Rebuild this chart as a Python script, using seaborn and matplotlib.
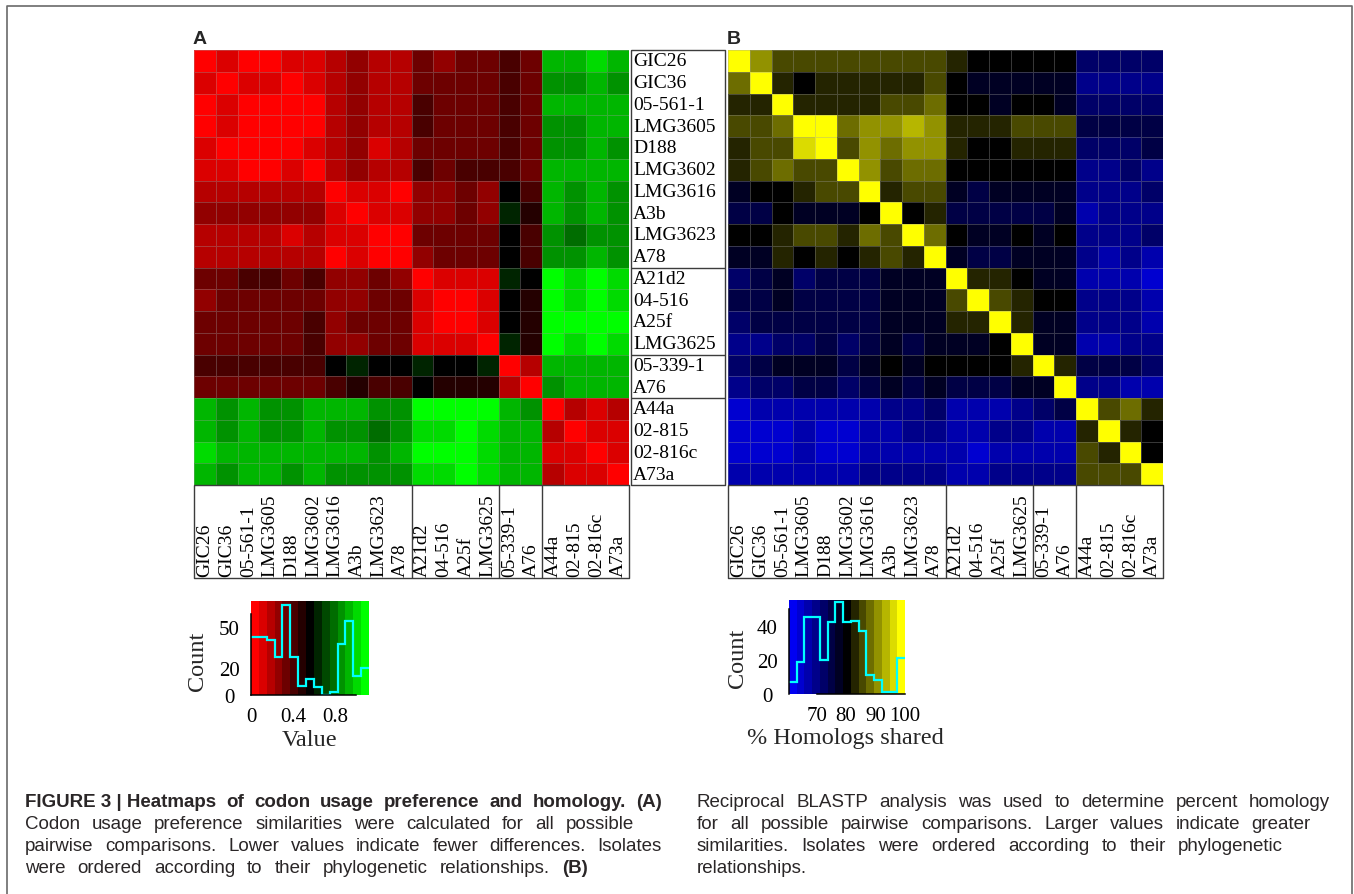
import numpy as np
import pandas as pd
import matplotlib
matplotlib.use("Agg")
import matplotlib.pyplot as plt
import seaborn as sns
from matplotlib.colors import ListedColormap

# ---------------- data ----------------
isolates = ["GIC26", "GIC36", "05-561-1", "LMG3605", "D188", "LMG3602", "LMG3616",
            "A3b", "LMG3623", "A78", "A21d2", "04-516", "A25f", "LMG3625",
            "05-339-1", "A76", "A44a", "02-815", "02-816c", "A73a"]
group_sizes = [10, 4, 2, 4]

codon_rows = [
    [0.00,0.11,0.04,0.04,0.11,0.11,0.19,0.26,0.19,0.19,0.34,0.26,0.34,0.34,0.41,0.34,0.93,0.93,1.01,0.93],
    [0.11,0.00,0.11,0.11,0.04,0.11,0.19,0.26,0.19,0.19,0.34,0.34,0.34,0.34,0.41,0.34,0.86,0.86,0.93,0.86],
    [0.04,0.11,0.00,0.04,0.04,0.04,0.19,0.26,0.19,0.19,0.41,0.34,0.34,0.34,0.41,0.34,0.93,0.93,0.93,0.93],
    [0.04,0.11,0.04,0.00,0.04,0.04,0.19,0.26,0.19,0.19,0.41,0.34,0.34,0.34,0.41,0.34,0.86,0.86,0.93,0.93],
    [0.11,0.04,0.04,0.04,0.00,0.11,0.19,0.26,0.11,0.19,0.34,0.34,0.34,0.34,0.41,0.34,0.86,0.86,0.93,0.86],
    [0.11,0.11,0.04,0.04,0.11,0.00,0.19,0.26,0.19,0.19,0.41,0.34,0.41,0.41,0.41,0.34,0.93,0.93,0.93,0.93],
    [0.19,0.19,0.19,0.19,0.19,0.19,0.00,0.11,0.11,0.04,0.26,0.26,0.34,0.26,0.56,0.41,0.93,0.86,0.93,0.86],
    [0.26,0.26,0.26,0.26,0.26,0.26,0.11,0.00,0.11,0.11,0.26,0.26,0.34,0.26,0.63,0.49,0.93,0.86,0.93,0.86],
    [0.19,0.19,0.19,0.19,0.11,0.19,0.11,0.11,0.00,0.04,0.34,0.34,0.34,0.34,0.56,0.41,0.86,0.78,0.86,0.86],
    [0.19,0.19,0.19,0.19,0.19,0.19,0.04,0.11,0.04,0.00,0.26,0.34,0.34,0.34,0.56,0.41,0.86,0.86,0.93,0.86],
    [0.34,0.34,0.41,0.41,0.34,0.41,0.26,0.26,0.34,0.26,0.00,0.11,0.11,0.11,0.63,0.56,1.08,1.01,1.08,1.01],
    [0.26,0.34,0.34,0.34,0.34,0.34,0.26,0.26,0.34,0.34,0.11,0.00,0.04,0.11,0.56,0.49,1.08,1.01,1.08,1.01],
    [0.34,0.34,0.34,0.34,0.34,0.41,0.26,0.34,0.34,0.34,0.11,0.04,0.00,0.11,0.56,0.49,1.08,1.08,1.08,1.08],
    [0.34,0.34,0.34,0.34,0.34,0.41,0.26,0.26,0.34,0.34,0.11,0.11,0.11,0.00,0.63,0.49,1.08,1.01,1.08,1.01],
    [0.41,0.41,0.41,0.41,0.41,0.41,0.56,0.63,0.56,0.56,0.63,0.56,0.56,0.63,0.00,0.19,0.93,0.93,0.93,0.93],
    [0.34,0.34,0.34,0.34,0.34,0.34,0.41,0.49,0.41,0.41,0.56,0.49,0.49,0.49,0.19,0.00,0.86,0.93,0.93,0.93],
    [0.93,0.86,0.93,0.86,0.86,0.93,0.93,0.93,0.86,0.86,1.08,1.08,1.08,1.08,0.93,0.86,0.00,0.19,0.11,0.19],
    [0.93,0.86,0.93,0.86,0.86,0.93,0.86,0.86,0.78,0.86,1.01,1.01,1.08,1.01,0.93,0.93,0.19,0.00,0.11,0.11],
    [1.01,0.93,0.93,0.93,0.93,0.93,0.93,0.93,0.86,0.93,1.08,1.08,1.08,1.01,0.93,0.93,0.11,0.11,0.00,0.11],
    [0.93,0.86,0.93,0.93,0.86,0.93,0.86,0.86,0.86,0.86,1.01,1.01,1.08,1.01,0.93,0.93,0.19,0.11,0.11,0.00],
]

homology_rows = [
    [100,90.8,85.6,85.6,85.6,85.6,85.6,85.6,85.6,85.6,82.9,80.3,80.3,80.3,80.3,80.3,72.4,72.4,72.4,72.4],
    [88.2,100,82.9,80.3,82.9,82.9,82.9,82.9,82.9,85.6,80.3,77.7,77.7,77.7,77.7,77.7,69.8,69.8,69.8,69.8],
    [82.9,82.9,100,82.9,82.9,82.9,82.9,85.6,85.6,88.2,80.3,80.3,77.7,80.3,80.3,77.7,72.4,72.4,72.4,72.4],
    [85.6,85.6,88.2,100,98.7,88.2,90.8,90.8,93.4,90.8,82.9,82.9,82.9,85.6,85.6,85.6,75.0,75.0,75.0,75.0],
    [82.9,85.6,85.6,96.1,100,85.6,90.8,88.2,90.8,90.8,82.9,80.3,80.3,82.9,82.9,82.9,72.4,72.4,72.4,75.0],
    [82.9,85.6,88.2,85.6,85.6,100,90.8,85.6,88.2,88.2,80.3,80.3,80.3,80.3,80.3,80.3,69.8,69.8,72.4,69.8],
    [77.7,80.3,80.3,82.9,85.6,85.6,100,82.9,85.6,85.6,77.7,75.0,77.7,77.7,77.7,77.7,69.8,69.8,69.8,72.4],
    [75.0,75.0,80.3,77.7,77.7,77.7,80.3,100,80.3,82.9,75.0,75.0,75.0,75.0,75.0,77.7,67.2,69.8,69.8,69.8],
    [80.3,80.3,82.9,85.6,85.6,82.9,88.2,85.6,100,88.2,80.3,77.7,77.7,80.3,77.7,80.3,69.8,69.8,69.8,72.4],
    [77.7,77.7,82.9,80.3,82.9,80.3,82.9,85.6,82.9,100,77.7,75.0,75.0,77.7,77.7,77.7,69.8,67.2,69.8,67.2],
    [72.4,75.0,77.7,72.4,75.0,75.0,75.0,77.7,77.7,77.7,100,82.9,82.9,80.3,77.7,77.7,67.2,67.2,67.2,64.5],
    [75.0,75.0,77.7,75.0,75.0,75.0,75.0,77.7,77.7,77.7,85.6,100,85.6,82.9,80.3,80.3,69.8,69.8,69.8,67.2],
    [72.4,75.0,75.0,75.0,75.0,75.0,75.0,77.7,77.7,77.7,82.9,82.9,100,82.9,77.7,77.7,69.8,69.8,69.8,67.2],
    [69.8,69.8,72.4,72.4,75.0,72.4,75.0,77.7,75.0,77.7,77.7,77.7,80.3,100,77.7,77.7,67.2,67.2,69.8,69.8],
    [72.4,75.0,77.7,77.7,77.7,75.0,77.7,80.3,77.7,80.3,80.3,80.3,80.3,82.9,100,82.9,75.0,75.0,75.0,72.4],
    [69.8,72.4,72.4,75.0,75.0,72.4,75.0,77.7,75.0,77.7,75.0,75.0,75.0,77.7,77.7,100,69.8,69.8,67.2,67.2],
    [64.5,67.2,67.2,67.2,67.2,67.2,67.2,69.8,69.8,72.4,67.2,67.2,67.2,69.8,72.4,75.0,100,85.6,88.2,82.9],
    [64.5,64.5,64.5,67.2,64.5,64.5,67.2,67.2,69.8,69.8,67.2,67.2,69.8,69.8,67.2,67.2,82.9,100,82.9,80.3],
    [64.5,64.5,64.5,67.2,64.5,64.5,67.2,67.2,67.2,67.2,67.2,64.5,67.2,67.2,67.2,67.2,85.6,82.9,100,80.3],
    [67.2,67.2,67.2,67.2,67.2,67.2,69.8,69.8,69.8,69.8,67.2,67.2,69.8,69.8,69.8,69.8,85.6,85.6,85.6,100],
]

codon_key_counts = [43, 43, 41, 28, 67, 28, 7, 12, 6, 0, 2, 38, 55, 14, 20]
codon_key_range = (0.0, 1.12)
homology_key_counts = [7, 19, 45, 45, 20, 42, 54, 42, 43, 37, 11, 8, 1, 1, 21]
homology_key_range = (60.6, 100.0)

caption_left = [
    ([("FIGURE 3 | Heatmaps", True), ("of", True), ("codon", True), ("usage", True),
      ("preference", True), ("and", True), ("homology.", True), ("(A)", True)], 662),
    ([(w, False) for w in "Codon usage preference similarities were calculated for all possible".split()], 634),
    ([(w, False) for w in "pairwise comparisons. Lower values indicate fewer differences. Isolates".split()], 662),
    ([(w, False) for w in "were ordered according to their phylogenetic relationships.".split()] + [("(B)", True)], 588),
]
caption_right = [
    ([(w, False) for w in "Reciprocal BLASTP analysis was used to determine percent homology".split()], 1330),
    ([(w, False) for w in "for all possible pairwise comparisons. Larger values indicate greater".split()], 1311),
    ([(w, False) for w in "similarities. Isolates were ordered according to their phylogenetic".split()], 1283),
    ([("relationships.", False)], None),
]

# ---------------- figure ----------------
sns.set_style("white")
plt.rcParams["font.family"] = ["Liberation Serif", "DejaVu Serif"]
W, H = 1354, 895
fig = plt.figure(figsize=(W / 100, H / 100), dpi=100)
fig.patch.set_facecolor("white")


def rect(l, t, w, h):
    return [l / W, 1 - (t + h) / H, w / W, h / H]


def three_color(lo, hi, n=15):
    half = (n - 1) / 2
    cols = []
    for k in range(n):
        t = (k - half) / half
        if t < 0:
            cols.append(tuple(np.array(lo) * (-t)))
        else:
            cols.append(tuple(np.array(hi) * t))
    return ListedColormap(cols)


cmapA = three_color((1, 0, 0), (0, 1, 0))
cmapB = three_color((0, 0, 0.95), (1, 1, 0))

dfA = pd.DataFrame(codon_rows, index=isolates, columns=isolates)
dfB = pd.DataFrame(homology_rows, index=isolates, columns=isolates)

HX_A, HX_B, HY, HS = 194, 728, 51, 435
cell = HS / 20
grid_col = (0.62, 0.62, 0.62, 0.35)

axA = fig.add_axes(rect(HX_A, HY, HS, HS))
sns.heatmap(dfA, ax=axA, cmap=cmapA, vmin=codon_key_range[0], vmax=codon_key_range[1],
            cbar=False, xticklabels=False, yticklabels=False,
            linewidths=0.5, linecolor=grid_col)
axB = fig.add_axes(rect(HX_B, HY, HS, HS))
sns.heatmap(dfB, ax=axB, cmap=cmapB, vmin=homology_key_range[0], vmax=homology_key_range[1],
            cbar=False, xticklabels=False, yticklabels=False,
            linewidths=0.5, linecolor=grid_col)
for ax in (axA, axB):
    ax.set_xlabel("")
    ax.set_ylabel("")


# ---------------- colour keys ----------------
def color_key(l, t, w, h, counts, rng, cmap, ytop, xticks, xlabels, yticks, ylabels,
              xb, yb):
    ax = fig.add_axes(rect(l, t, w, h))
    n = len(counts)
    edges = np.linspace(rng[0], rng[1], n + 1)
    centers = (edges[:-1] + edges[1:]) / 2
    ax.pcolormesh(edges, [0, ytop], centers[None, :], cmap=cmap,
                  vmin=rng[0], vmax=rng[1], shading="flat")
    ax.stairs(counts, edges, baseline=None, color="#00ffff", lw=1.6)
    ax.set_xlim(rng)
    ax.set_ylim(0, ytop)
    for s in ("top", "right"):
        ax.spines[s].set_visible(False)
    for s in ("left", "bottom"):
        ax.spines[s].set_color("black")
        ax.spines[s].set_linewidth(1.1)
    ax.spines["bottom"].set_bounds(*xb)
    ax.spines["left"].set_bounds(*yb)
    ax.set_xticks(xticks)
    ax.set_xticklabels(xlabels)
    ax.set_yticks(yticks)
    ax.set_yticklabels(ylabels)
    ax.tick_params(direction="out", length=4.5, width=1.1, labelsize=15,
                   colors="black")
    ax.tick_params(axis="x", pad=4)
    ax.tick_params(axis="y", pad=11)
    for lab in ax.get_xticklabels() + ax.get_yticklabels():
        lab.set_family("Liberation Serif")
    for lab in ax.get_yticklabels():
        lab.set_horizontalalignment("center")
    return ax


color_key(251, 602, 118, 94, codon_key_counts, codon_key_range, cmapA, 69.6,
          [0, 0.2, 0.4, 0.6, 0.8, 1.0], ["0", "", "0.4", "", "0.8", ""],
          [0, 10, 20, 30, 40, 50, 60], ["0", "", "20", "", "", "50", ""],
          (0, 1.0), (0, 60))
color_key(789, 601, 116, 94, homology_key_counts, homology_key_range, cmapB, 55.1,
          [70, 80, 90, 100], ["70", "80", "90", "100"],
          [0, 10, 20, 30, 40, 50], ["0", "", "20", "", "40", ""],
          (70, 100), (0, 50))

# ---------------- overlay (labels, boxes, caption) ----------------
ov = fig.add_axes([0, 0, 1, 1])
ov.set_xlim(0, W)
ov.set_ylim(H, 0)
ov.axis("off")

box_kw = dict(color="#3c3c3c", lw=1.0, solid_capstyle="butt")
bounds = np.cumsum([0] + group_sizes)

# row label box
RX0, RX1 = 631, 725
ov.plot([RX0, RX1, RX1, RX0, RX0], [HY, HY, HY + HS, HY + HS, HY], **box_kw)
for b in bounds[1:-1]:
    ov.plot([RX0, RX1], [HY + b * cell] * 2, **box_kw)
for i, name in enumerate(isolates):
    ov.text(RX0 + 2, HY + (i + 0.5) * cell, name, fontsize=14, ha="left", va="center",
            family="Liberation Serif", color="black")

# column label boxes
CY0, CY1 = HY + HS, 579
for x0 in (HX_A, HX_B):
    ov.plot([x0, x0 + HS, x0 + HS, x0, x0], [CY0, CY0, CY1, CY1, CY0], **box_kw)
    for b in bounds[1:-1]:
        ov.plot([x0 + b * cell] * 2, [CY0, CY1], **box_kw)
    for j, name in enumerate(isolates):
        ov.text(x0 + (j + 0.5) * cell, CY1 - 2, name, fontsize=14, rotation=90,
                ha="center", va="bottom", family="Liberation Serif", color="black")

# panel letters
ov.text(193, 44, "A", fontsize=14, fontweight="bold", family="Liberation Sans",
        ha="left", va="baseline")
ov.text(727, 44, "B", fontsize=14, fontweight="bold", family="Liberation Sans",
        ha="left", va="baseline")

# key axis labels
ov.text(198, 661, "Count", fontsize=17.5, rotation=90, ha="center", va="center",
        family="Liberation Serif")
ov.text(310, 746, "Value", fontsize=17.5, ha="center", va="baseline",
        family="Liberation Serif")
ov.text(737, 658, "Count", fontsize=17.5, rotation=90, ha="center", va="center",
        family="Liberation Serif")
ov.text(845, 744, "% Homologs shared", fontsize=17.5, ha="center", va="baseline",
        family="Liberation Serif")

# outer frame
frame_kw = dict(color="#6a6a6a", lw=1.2)
ov.plot([7, 7, 1352, 1352], [H + 5, 7, 7, H + 5], **frame_kw)

# caption (justified)
fig.canvas.draw()
renderer = fig.canvas.get_renderer()


def justify(words, x0, x1, y, size=13.5):
    objs, widths = [], []
    for w, bold in words:
        t = ov.text(0, y, w, fontsize=size, family="Liberation Sans",
                    fontweight="bold" if bold else "normal", va="baseline",
                    ha="left", color="#2a2627")
        widths.append(t.get_window_extent(renderer).width)
        objs.append(t)
    if x1 is None or len(words) == 1:
        gap = size * 100 / 72 * 0.28
    else:
        gap = (x1 - x0 - sum(widths)) / (len(words) - 1)
    x = x0
    for t, wd in zip(objs, widths):
        t.set_x(x)
        x += wd + gap


baselines = [807, 829, 851, 873]
for (words, x1), y in zip(caption_left, baselines):
    justify(words, 25, x1, y)
for (words, x1), y in zip(caption_right, baselines):
    justify(words, 697, x1, y)

fig.savefig("out.png", dpi=100, facecolor="white")
